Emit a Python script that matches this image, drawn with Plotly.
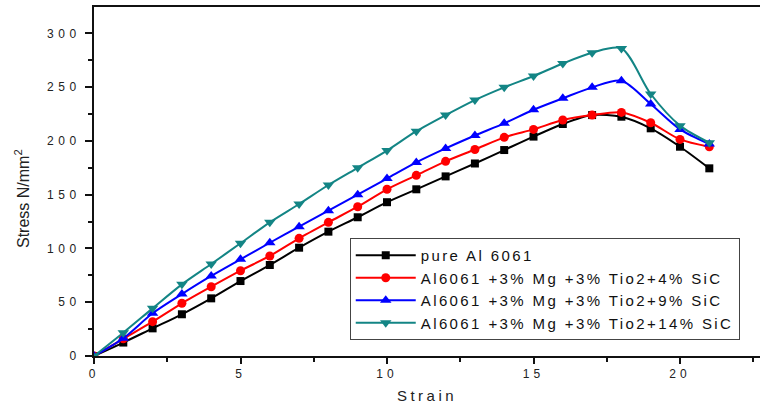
import plotly.graph_objects as go

strain = list(range(0, 22))
pure = [0, 12.5, 25.7, 38.8, 53.6, 69.7, 84.6, 100.7, 115.6, 129, 143, 155, 167, 179, 191.5, 204, 215.7, 224, 222.5, 211.7, 194.6, 174.5]
sic4 = [0, 16, 31.9, 49, 64.4, 79.3, 93, 109.4, 124.3, 138.8, 155, 168, 181, 192, 203.3, 210.7, 219.4, 224, 226.5, 216.9, 201.4, 194.6]
sic9 = [0, 16.4, 39.7, 57.6, 74.4, 89.9, 105.3, 120.2, 135.1, 150, 165, 180, 193, 205, 216.3, 229, 239.6, 249.8, 256, 234.3, 210.7, 197.1]
sic14 = [0, 21.7, 44.3, 66.6, 85.5, 104.8, 124.3, 141.3, 159, 175, 191, 209, 224, 238, 249.8, 260.3, 272, 282, 286, 243.6, 214.2, 198.3]

names = ["pure Al 6061",
         "Al6061 +3% Mg +3% Tio2+4% SiC",
         "Al6061 +3% Mg +3% Tio2+9% SiC",
         "Al6061 +3% Mg +3% Tio2+14% SiC"]

x_tickvals = [0, 5, 10, 15, 20]
x_ticktext = ["0", "5", "10", "15", "20"]
y_tickvals = [0, 50, 100, 150, 200, 250, 300]
y_ticktext = ["0", "50", "100", "150", "200", "250", "300"]

def spaced(s, px):
    return f"<span style='letter-spacing:{px}px'>{s}</span>"

series = [pure, sic4, sic9, sic14]
colors = ["#000000", "#ff0000", "#0000ff", "#138585"]
symbols = ["square", "circle", "triangle-up", "triangle-down"]
sizes = [8, 9, 10, 10]

fig = go.Figure()
for ys, nm, c, s, sz in zip(series, names, colors, symbols, sizes):
    fig.add_trace(go.Scatter(
        x=strain, y=ys, name=spaced(nm, 2.4), mode="lines+markers",
        line=dict(color=c, width=2, shape="spline", smoothing=0.8),
        marker=dict(color=c, symbol=s, size=sz),
    ))

fig.add_annotation(
    text="Stress N/mm<sup>2</sup>", textangle=-90,
    xref="paper", yref="paper", x=-0.108, y=0.45,
    xanchor="center", yanchor="middle", showarrow=False,
    font=dict(size=16, color="#222222"),
)

fig.update_layout(
    width=760, height=411,
    margin=dict(l=94, r=0, t=7, b=55),
    paper_bgcolor="white", plot_bgcolor="white",
    font=dict(family="Liberation Sans, Arial, sans-serif", color="#222222", size=12),
    showlegend=True,
    legend=dict(
        x=0.384, y=0.338, xanchor="left", yanchor="top",
        bordercolor="#444444", borderwidth=1, bgcolor="white",
        font=dict(size=15, color="#111111"),
        itemwidth=60, tracegroupgap=0,
    ),
    xaxis=dict(
        range=[0, 22.73], showgrid=False, zeroline=False,
        showline=True, linecolor="#111111", linewidth=2, mirror=True,
        ticks="outside", ticklen=6, tickwidth=2, tickcolor="#111111",
        tickvals=x_tickvals, ticktext=[spaced(t, 4) for t in x_ticktext],
        tickfont=dict(size=12),
        minor=dict(dtick=2.5, tick0=0, ticks="outside", ticklen=4, tickwidth=1.5, tickcolor="#111111"),
        title=dict(text=spaced("Strain", 3.5), font=dict(size=15), standoff=10),
    ),
    yaxis=dict(
        range=[0, 324.5], showgrid=False, zeroline=False,
        showline=True, linecolor="#111111", linewidth=2,
        ticks="outside", ticklen=7, tickwidth=2, tickcolor="#111111",
        tickvals=y_tickvals, ticktext=[spaced(t, 4.5) for t in y_ticktext],
        tickfont=dict(size=12), ticklabelstandoff=2,
        minor=dict(dtick=25, tick0=0, ticks="outside", ticklen=4, tickwidth=1.5, tickcolor="#111111"),
    ),
)

fig.write_html("out.html", config={"displayModeBar": False},
               post_script="document.body.style.margin='0';")
